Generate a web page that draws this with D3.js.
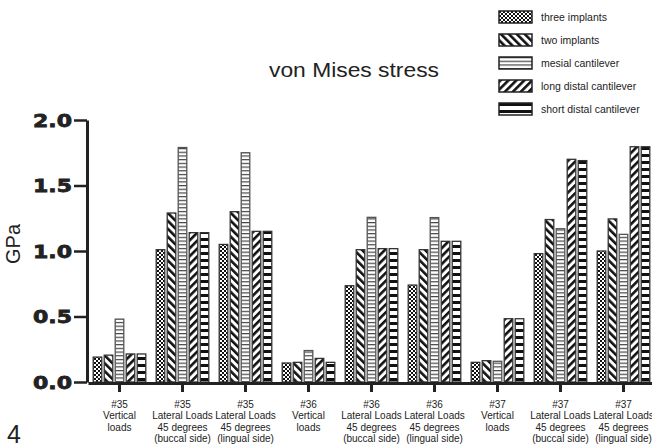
<!DOCTYPE html>
<html>
<head>
<meta charset="utf-8">
<script src="https://cdn.jsdelivr.net/npm/d3@7"></script>
<style>
  body { margin: 0; background: #fff; }
  svg { display: block; font-family: "Liberation Sans", Arial, sans-serif; }
</style>
</head>
<body>
<div id="chart"></div>
<script>
// chart data
let categories = ["c1", "c2", "c3", "c4", "c5", "c6", "c7", "c8", "c9"];
let tickLabels = [
  ["#35", "Vertical", "loads"],
  ["#35", "Lateral Loads", "45 degrees", "(buccal side)"],
  ["#35", "Lateral Loads", "45 degrees", "(lingual side)"],
  ["#36", "Vertical", "loads"],
  ["#36", "Lateral Loads", "45 degrees", "(buccal side)"],
  ["#36", "Lateral Loads", "45 degrees", "(lingual side)"],
  ["#37", "Vertical", "loads"],
  ["#37", "Lateral Loads", "45 degrees", "(buccal side)"],
  ["#37", "Lateral Loads", "45 degrees", "(lingual side)"]
];
let seriesNames = ["three implants", "two implants", "mesial cantilever", "long distal cantilever", "short distal cantilever"];
let threeImplants = [0.19, 1.01, 1.05, 0.145, 0.735, 0.74, 0.15, 0.98, 1.00];
let twoImplants   = [0.205, 1.29, 1.30, 0.15, 1.01, 1.01, 0.163, 1.24, 1.245];
let mesialCant    = [0.48, 1.79, 1.75, 0.24, 1.257, 1.255, 0.158, 1.17, 1.127];
let longDistal    = [0.214, 1.14, 1.15, 0.18, 1.018, 1.074, 0.483, 1.70, 1.796];
let shortDistal   = [0.214, 1.14, 1.15, 0.15, 1.018, 1.074, 0.483, 1.69, 1.796];
let yTicks = [0, 0.5, 1.0, 1.5, 2.0];

let series = [threeImplants, twoImplants, mesialCant, longDistal, shortDistal];
let patternIds = ["pChecker", "pBack", "pThin", "pFwd", "pThick"];

let svgWidth = 652, svgHeight = 448;

let svg = d3.select("#chart").append("svg")
  .attr("width", svgWidth)
  .attr("height", svgHeight);

// ---- patterns ----
let defs = svg.append("defs");

function basePattern(id, w, h) {
  let p = defs.append("pattern")
    .attr("id", id)
    .attr("patternUnits", "userSpaceOnUse")
    .attr("width", w)
    .attr("height", h);
  p.append("rect").attr("width", w).attr("height", h).attr("fill", "#fff");
  return p;
}

let pc = basePattern("pChecker", 4, 4);
pc.append("rect").attr("width", 2).attr("height", 2).attr("fill", "#111");
pc.append("rect").attr("x", 2).attr("y", 2).attr("width", 2).attr("height", 2).attr("fill", "#111");

let pb = basePattern("pBack", 5.6, 5.6).attr("patternTransform", "rotate(-45)");
pb.append("rect").attr("width", 2.6).attr("height", 5.6).attr("fill", "#111");

let pf = basePattern("pFwd", 5.6, 5.6).attr("patternTransform", "rotate(45)");
pf.append("rect").attr("width", 2.6).attr("height", 5.6).attr("fill", "#111");

let pt = basePattern("pThin", 4, 3.7);
pt.append("rect").attr("width", 4).attr("height", 1.2).attr("fill", "#444");

let pk = basePattern("pThick", 4, 7);
pk.append("rect").attr("width", 4).attr("height", 3).attr("fill", "#111");

// ---- scales ----
let x0 = d3.scaleBand().domain(categories).range([88, 88 + 63 * 9]);
let x1 = d3.scaleBand().domain(d3.range(5)).range([4, 59]).paddingInner(0.22).paddingOuter(0.11);
let y = d3.scaleLinear().domain([0, 2]).range([382, 120]);

// ---- bars ----
let groups = svg.append("g").selectAll("g")
  .data(categories)
  .enter().append("g")
  .attr("transform", d => `translate(${x0(d)},0)`);

groups.selectAll("rect")
  .data((d, i) => series.map((s, k) => ({ k: k, v: s[i] })))
  .enter().append("rect")
  .attr("x", d => x1(d.k))
  .attr("y", d => y(d.v))
  .attr("width", x1.bandwidth())
  .attr("height", d => y(0) - y(d.v))
  .attr("fill", d => `url(#${patternIds[d.k]})`)
  .attr("stroke", d => d.k == 2 ? "#555" : "#333")
  .attr("stroke-width", 1.3);

// ---- axes ----
let xAxis = svg.append("g")
  .attr("transform", "translate(0,383)")
  .call(d3.axisBottom(x0).tickSize(9).tickSizeOuter(0));
xAxis.select(".domain").attr("stroke", "#222").attr("stroke-width", 3);
xAxis.selectAll(".tick line").attr("stroke", "#222").attr("stroke-width", 3);
xAxis.selectAll(".tick text").each(function (d, i) {
  let t = d3.select(this).text(null).attr("y", 0).attr("dy", null)
    .attr("fill", "#222").style("font-size", "10px")
    .style("font-family", "'Liberation Sans', Arial, sans-serif");
  tickLabels[i].forEach((line, j) => {
    t.append("tspan").attr("x", 0).attr("y", 25 + j * 11.3).text(line);
  });
});

let yAxis = svg.append("g")
  .attr("transform", "translate(87,0)")
  .call(d3.axisLeft(y).tickValues(yTicks).tickFormat(d3.format(".1f")).tickSize(13).tickPadding(2).tickSizeOuter(0));
yAxis.select(".domain").attr("stroke", "#222").attr("stroke-width", 3);
yAxis.selectAll(".tick line").attr("stroke", "#222").attr("stroke-width", 2.5);
yAxis.selectAll(".tick text")
  .attr("fill", "#222")
  .attr("stroke", "#222")
  .attr("stroke-width", 0.8)
  .attr("dy", "0.36em")
  .style("font-size", "18px")
  .style("font-weight", "bold")
  .style("font-family", "'DejaVu Sans', sans-serif")
  .attr("textLength", 39)
  .attr("lengthAdjust", "spacingAndGlyphs");

// y label
svg.append("text")
  .attr("transform", "translate(20,244) rotate(-90)")
  .attr("text-anchor", "middle")
  .attr("fill", "#222")
  .style("font-size", "20px")
  .text("GPa");

// title
svg.append("text")
  .attr("x", 354)
  .attr("y", 77)
  .attr("text-anchor", "middle")
  .attr("fill", "#222")
  .style("font-size", "20px")
  .attr("textLength", 170)
  .attr("lengthAdjust", "spacingAndGlyphs")
  .text("von Mises stress");

// panel number
svg.append("text")
  .attr("x", 7)
  .attr("y", 443)
  .attr("fill", "#222")
  .style("font-size", "25px")
  .text("4");

// ---- legend ----
let legend = svg.append("g").selectAll("g")
  .data(seriesNames)
  .enter().append("g")
  .attr("transform", (d, i) => `translate(499,${11 + i * 23})`);

legend.append("rect")
  .attr("width", 33)
  .attr("height", 12)
  .attr("fill", (d, i) => `url(#${patternIds[i]})`)
  .attr("stroke", "#222")
  .attr("stroke-width", 1.5);

legend.append("text")
  .attr("x", 42)
  .attr("y", 6)
  .attr("dy", "0.35em")
  .attr("fill", "#222")
  .style("font-size", "10.5px")
  .text(d => d);
</script>
</body>
</html>
